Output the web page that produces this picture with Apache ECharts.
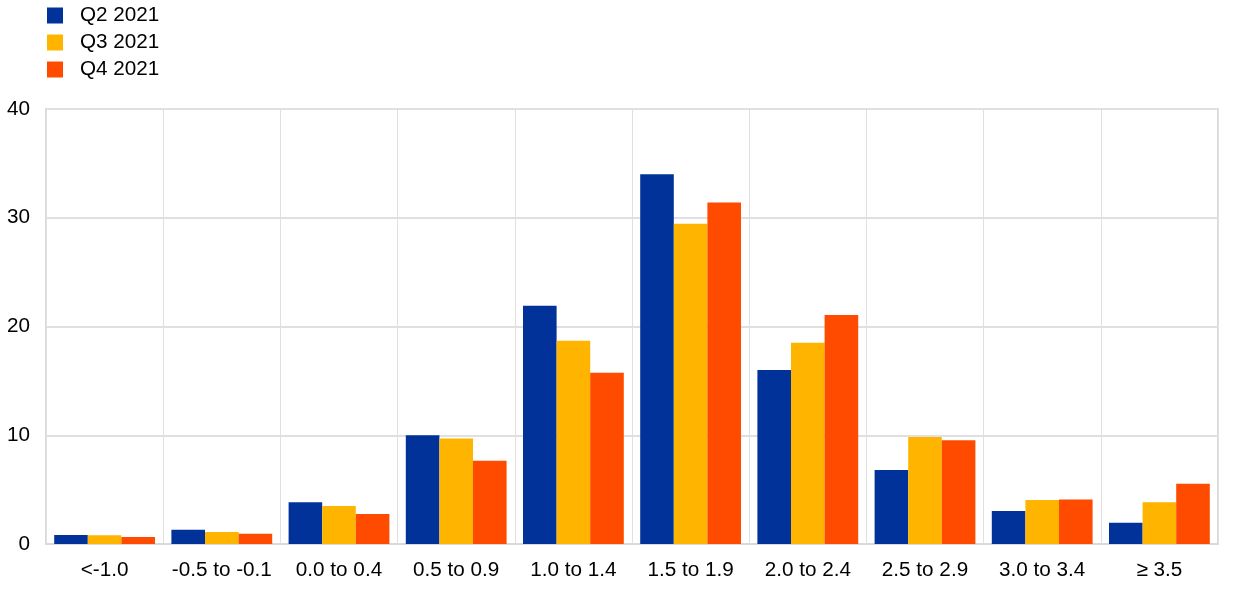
<!DOCTYPE html>
<html>
<head>
<meta charset="utf-8">
<script src="https://cdn.jsdelivr.net/npm/echarts@6/dist/echarts.min.js"></script>
<style>html,body{margin:0;padding:0;background:#fff}#c{width:1240px;height:594px}</style>
</head>
<body>
<div id="c"></div>
<script>
const categories = ['<-1.0', '-0.5 to -0.1', '0.0 to 0.4', '0.5 to 0.9', '1.0 to 1.4', '1.5 to 1.9', '2.0 to 2.4', '2.5 to 2.9', '3.0 to 3.4', '≥ 3.5'];
const seriesNames = ['Q2 2021', 'Q3 2021', 'Q4 2021'];
const q2_2021 = [0.83, 1.3, 3.84, 10.0, 21.9, 34.0, 16.0, 6.8, 3.04, 1.96];
const q3_2021 = [0.8, 1.1, 3.5, 9.7, 18.7, 29.45, 18.5, 9.85, 4.05, 3.84];
const q4_2021 = [0.65, 0.95, 2.76, 7.65, 15.75, 31.4, 21.05, 9.55, 4.1, 5.55];
const yTicks = [0, 10, 20, 30, 40];
const colors = ['#003299', '#FFB400', '#FF4B00'];

const chart = echarts.init(document.getElementById('c'), null, {renderer: 'canvas'});
const font = 'Arial, "Liberation Sans", sans-serif';
const mk = (name, data, i) => ({
  name: name, type: 'bar', data: data, barGap: '0%', barCategoryGap: '14%',
  itemStyle: {color: colors[i]}, animation: false
});
chart.setOption({
  animation: false,
  legend: {
    orient: 'vertical', left: 42, top: 0, itemWidth: 16, itemHeight: 16, itemGap: 6,
    icon: 'rect',
    textStyle: {fontSize: 20.7, color: '#000', fontFamily: font, padding: [0, 0, 0, 12]},
    data: seriesNames
  },
  grid: {left: 46, right: 22, top: 109, bottom: 50, show: true, borderColor: '#d9d9d9', borderWidth: 2, containLabel: false},
  xAxis: {
    type: 'category', data: categories,
    axisLine: {show: true, lineStyle: {color: '#d9d9d9', width: 2}},
    axisTick: {show: false, interval: 0},
    splitLine: {show: true, interval: 0, lineStyle: {color: '#e0e0e0', width: 1}},
    axisLabel: {interval: 0, fontSize: 20.7, color: '#000', fontFamily: font, margin: 16}
  },
  yAxis: {
    type: 'value', min: yTicks[0], max: yTicks[yTicks.length - 1], interval: 10,
    axisLine: {show: false}, axisTick: {show: false},
    splitLine: {show: true, lineStyle: {color: '#e0e0e0', width: 2}},
    axisLabel: {fontSize: 20.7, color: '#000', fontFamily: font, margin: 16}
  },
  series: [mk(seriesNames[0], q2_2021, 0), mk(seriesNames[1], q3_2021, 1), mk(seriesNames[2], q4_2021, 2)]
});
</script>
</body>
</html>
